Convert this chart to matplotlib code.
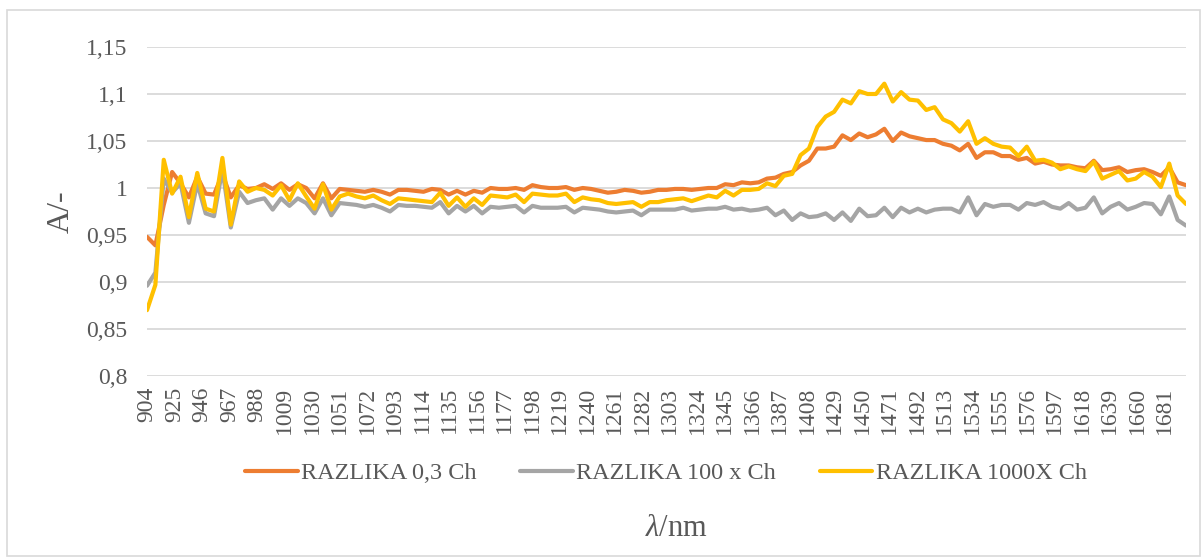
import matplotlib
matplotlib.use('agg')
import matplotlib.pyplot as plt
from matplotlib.patches import Rectangle
import numpy as np

# absorbance ratios (125 points, ~904-1697 nm)
orange = [0.948, 0.939, 0.982, 1.017, 1.005, 0.990, 1.012, 0.994, 0.993, 1.015,
	0.990, 1.003, 0.999, 1.000, 1.004, 0.999, 1.005, 0.998, 1.004, 1.000,
	0.989, 1.005, 0.989, 0.999, 0.998, 0.997, 0.996, 0.998, 0.996, 0.993,
	0.998, 0.998, 0.997, 0.996, 0.999, 0.998, 0.993, 0.997, 0.993, 0.997,
	0.995, 1.000, 0.999, 0.999, 1.000, 0.998, 1.003, 1.001, 1.000, 1.000,
	1.001, 0.998, 1.000, 0.999, 0.997, 0.995, 0.996, 0.998, 0.997, 0.995,
	0.996, 0.998, 0.998, 0.999, 0.999, 0.998, 0.999, 1.000, 1.000, 1.004,
	1.003, 1.006, 1.005, 1.006, 1.010, 1.011, 1.015, 1.017, 1.024, 1.029,
	1.042, 1.042, 1.044, 1.056, 1.051, 1.058, 1.054, 1.057, 1.063, 1.050,
	1.059, 1.055, 1.053, 1.051, 1.051, 1.047, 1.045, 1.040, 1.047, 1.032,
	1.038, 1.038, 1.034, 1.034, 1.030, 1.032, 1.026, 1.028, 1.025, 1.024,
	1.024, 1.022, 1.021, 1.029, 1.019, 1.020, 1.022, 1.017, 1.019, 1.020,
	1.017, 1.013, 1.022, 1.006, 1.003]

gray = [0.896, 0.910, 1.010, 0.995, 1.005, 0.963, 1.005, 0.973, 0.970, 1.020,
	0.958, 0.996, 0.984, 0.987, 0.989, 0.977, 0.989, 0.981, 0.989, 0.984,
	0.973, 0.989, 0.971, 0.984, 0.983, 0.982, 0.980, 0.982, 0.979, 0.975,
	0.982, 0.981, 0.981, 0.980, 0.979, 0.985, 0.973, 0.981, 0.975, 0.981,
	0.973, 0.980, 0.979, 0.980, 0.981, 0.974, 0.981, 0.979, 0.979, 0.979,
	0.980, 0.974, 0.979, 0.978, 0.977, 0.975, 0.974, 0.975, 0.976, 0.971,
	0.977, 0.977, 0.977, 0.977, 0.979, 0.976, 0.977, 0.978, 0.978, 0.980,
	0.977, 0.978, 0.976, 0.977, 0.979, 0.971, 0.976, 0.966, 0.973, 0.969,
	0.970, 0.973, 0.966, 0.974, 0.965, 0.978, 0.970, 0.971, 0.979, 0.969,
	0.979, 0.974, 0.978, 0.974, 0.977, 0.978, 0.978, 0.974, 0.990, 0.971,
	0.983, 0.980, 0.982, 0.982, 0.977, 0.984, 0.982, 0.985, 0.980, 0.978,
	0.984, 0.977, 0.979, 0.990, 0.973, 0.980, 0.984, 0.977, 0.980, 0.984,
	0.983, 0.972, 0.991, 0.966, 0.960]

yellow = [0.870, 0.897, 1.030, 0.994, 1.012, 0.969, 1.016, 0.978, 0.975, 1.032,
	0.961, 1.007, 0.996, 1.000, 0.998, 0.992, 1.003, 0.987, 1.005, 0.991,
	0.978, 1.004, 0.977, 0.991, 0.994, 0.991, 0.989, 0.992, 0.987, 0.983,
	0.989, 0.988, 0.987, 0.986, 0.985, 0.995, 0.981, 0.990, 0.980, 0.989,
	0.982, 0.992, 0.991, 0.990, 0.993, 0.985, 0.994, 0.993, 0.992, 0.992,
	0.994, 0.985, 0.990, 0.988, 0.987, 0.984, 0.983, 0.984, 0.985, 0.980,
	0.985, 0.985, 0.987, 0.988, 0.989, 0.986, 0.989, 0.992, 0.990, 0.997,
	0.992, 0.998, 0.998, 0.999, 1.005, 1.002, 1.013, 1.015, 1.035, 1.042,
	1.065, 1.076, 1.081, 1.094, 1.090, 1.103, 1.100, 1.100, 1.111, 1.092,
	1.102, 1.094, 1.093, 1.083, 1.086, 1.073, 1.069, 1.060, 1.071, 1.047,
	1.053, 1.047, 1.044, 1.043, 1.034, 1.044, 1.029, 1.030, 1.027, 1.020,
	1.023, 1.020, 1.018, 1.028, 1.010, 1.014, 1.018, 1.008, 1.010, 1.017,
	1.012, 1.001, 1.026, 0.992, 0.983]

series_names = ['RAZLIKA 0,3 Ch', 'RAZLIKA 100 x Ch', 'RAZLIKA 1000X Ch']
series_colors = ['#ED7D31', '#A5A5A5', '#FFC000']

# uniform spectrometer grid
wavelength = np.linspace(904, 1697.4, len(orange))

tick_nm = [904, 925, 946, 967, 988, 1009, 1030, 1051, 1072, 1093, 1114, 1135,
	1156, 1177, 1198, 1219, 1240, 1261, 1282, 1303, 1324, 1345, 1366, 1387,
	1408, 1429, 1450, 1471, 1492, 1513, 1534, 1555, 1576, 1597, 1618, 1639,
	1660, 1681]
y_ticks = [0.8, 0.85, 0.9, 0.95, 1.0, 1.05, 1.1, 1.15]


def comma(v):
	s = ('%.2f' % v).rstrip('0').rstrip('.')
	return s.replace('.', ',')


def main():
	plt.rcParams['font.family'] = ['Liberation Serif', 'DejaVu Serif']
	plt.rcParams['mathtext.fontset'] = 'custom'
	plt.rcParams['mathtext.it'] = 'Liberation Serif:italic'
	plt.rcParams['mathtext.rm'] = 'Liberation Serif'
	txt = '#595959'
	grid = '#D9D9D9'

	W, H = 1203, 557
	fig = plt.figure(figsize=(W / 100, H / 100), dpi=100)
	ax = fig.add_axes([147 / W, 1 - 376 / H, 1039 / W, 329 / H])

	for vals, name, col in zip([orange, gray, yellow], series_names, series_colors):
		ax.plot(wavelength, vals, color=col, lw=3.0, label=name,
			solid_joinstyle='round', solid_capstyle='round')

	ax.set_xlim(wavelength[0], wavelength[-1])
	ax.set_ylim(0.8, 1.15)
	ax.set_yticks(y_ticks)
	ax.set_yticklabels([comma(v) for v in y_ticks])
	ax.set_xticks(tick_nm)
	ax.set_xticklabels([str(t) for t in tick_nm], rotation=90)
	ax.tick_params(axis='y', length=0, pad=14, labelsize=17, labelcolor=txt)
	ax.tick_params(axis='x', length=0, pad=8, labelsize=17, labelcolor=txt)
	ax.yaxis.grid(True, color=grid, lw=1.3)
	ax.set_axisbelow(True)
	for s in ax.spines.values():
		s.set_visible(False)

	fig.text(61 / W, 1 - 212 / H, 'A/-', rotation=90, ha='center', va='center',
		fontsize=23, color=txt)
	fig.text(676 / W, 1 - 528 / H, r'$\mathit{\lambda}$/nm', ha='center', va='center',
		fontsize=22, color=txt)

	fig.legend(loc='center', bbox_to_anchor=(666 / W, 1 - 473 / H), ncol=3,
		frameon=False, fontsize=17.5, labelcolor=txt, handlelength=2.15,
		handletextpad=0.15, columnspacing=1.8)

	fig.patches.append(Rectangle((6.5 / W, 1.5 / H), (1200 - 6.5) / W, (547 - 1.5) / H,
		transform=fig.transFigure, fill=False, edgecolor=grid, lw=1.2))

	fig.savefig('out.png', dpi=100)


main()
